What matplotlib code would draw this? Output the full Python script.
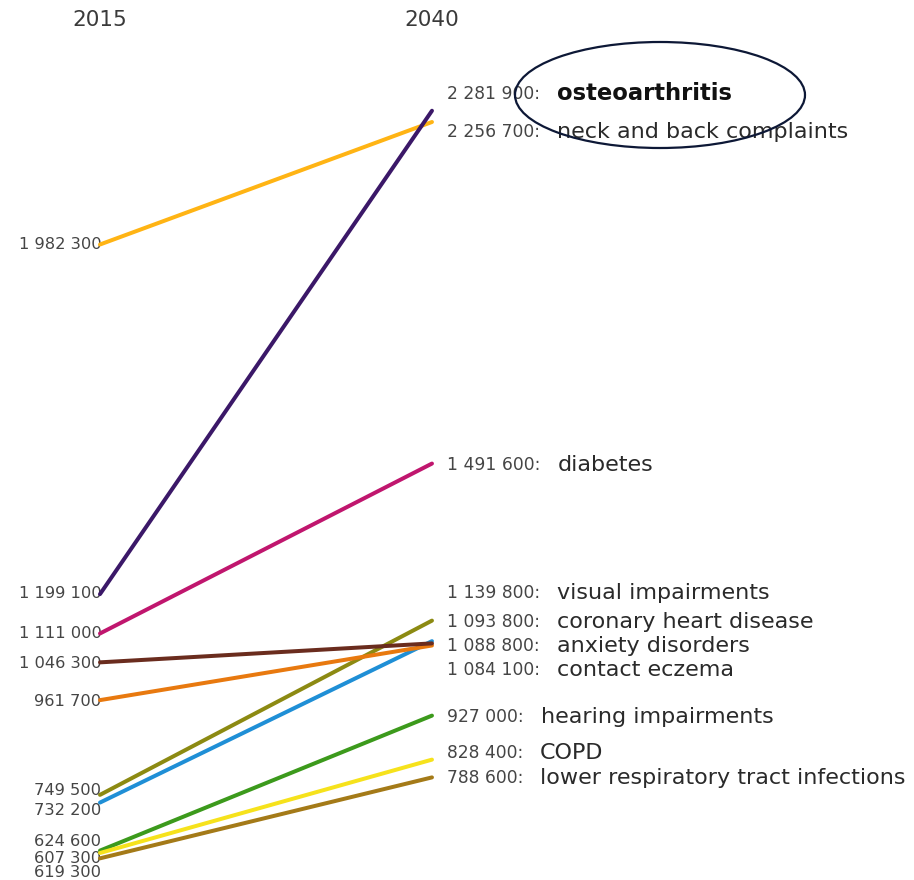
import matplotlib
matplotlib.use("Agg")
import matplotlib.pyplot as plt
from matplotlib.patches import Ellipse

plt.rcParams['font.family'] = ['DejaVu Sans']

# Projected number of people with each condition, 2015 vs 2040
conditions = [
    "osteoarthritis", "neck and back complaints", "diabetes",
    "visual impairments", "coronary heart disease", "anxiety disorders",
    "contact eczema", "hearing impairments", "COPD",
    "lower respiratory tract infections",
]
values_2015 = [1199100, 1982300, 1111000, 749500, 732200, 1046300,
               961700, 624600, 619300, 607300]
values_2040 = [2281900, 2256700, 1491600, 1139800, 1093800, 1088800,
               1084100, 927000, 828400, 788600]
colors = ["#3b1868", "#ffb414", "#c0166e", "#8c8a12", "#1f8fd6", "#6a2c1e",
          "#e8790f", "#3c9a1c", "#f6e21c", "#a47a18"]
years = [2015, 2040]

# label nudges (pixels, +down) to keep crowded labels readable
left_nudge = [-2, -2, -1, -6, 6, 0, 0, -11, 18, -1]
right_nudge = [-19, 8, -1, -30, -21, 1, 23, -1, -9, -1]

fig = plt.figure(figsize=(9.14, 8.8), dpi=100)
ax = fig.add_axes([0, 0, 1, 1])
ax.set_xlim(2007.47, 2076.3)
ax.set_ylim(558780, 2529980)
ax.axis("off")

px = 72 / fig.dpi  # pixels -> points
order = [1, 3, 4, 6, 5, 7, 9, 8, 2, 0]
for i in order:
    ax.plot(years, [values_2015[i], values_2040[i]], color=colors[i],
            lw=4.0 * px, solid_capstyle="round", zorder=3 + (i == 0))

def fmt(v):
    return f"{v:,}".replace(",", " ")

for i in range(len(conditions)):
    # left value labels
    ax.annotate(fmt(values_2015[i]), xy=(2015, values_2015[i]),
                xytext=(1, -left_nudge[i] * px), textcoords="offset points",
                ha="right", va="center_baseline", fontsize=11.7,
                color="#454545", zorder=2)
    # right value + name labels
    num = ax.annotate(fmt(values_2040[i]) + ":", xy=(2040, values_2040[i]),
                      xytext=(15 * px, -right_nudge[i] * px),
                      textcoords="offset points", ha="left",
                      va="center_baseline", fontsize=12.3, color="#454545")
    bold = i == 0
    ax.annotate(conditions[i], xy=(1, 0.5), xycoords=num,
                xytext=(17 * px, 0), textcoords="offset points",
                ha="left", va="center", fontsize=16.3 if bold else 16,
                fontweight="bold" if bold else "normal",
                color="#111111" if bold else "#2a2a2a")

for yr in years:
    ax.text(yr, 1.0 - 20 / 880, str(yr), transform=ax.get_xaxis_transform(),
            ha="center", va="center", fontsize=15.5, color="#3a3a3a")

ax.add_patch(Ellipse((660 / 914, 1 - 95 / 880), 290 / 914, 106 / 880,
                     transform=fig.transFigure, fill=False,
                     edgecolor="#0d1836", lw=1.6, zorder=6))

fig.savefig("out.png", dpi=100)
